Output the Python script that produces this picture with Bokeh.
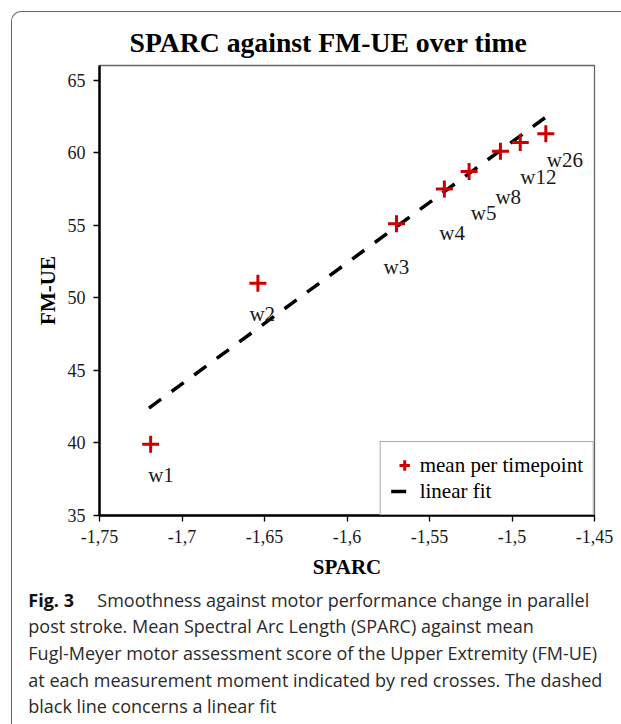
from bokeh.plotting import figure
from bokeh.models import (FixedTicker, Legend, LegendItem, Div,
                          ColumnDataSource, Range1d)
from bokeh.layouts import column
from bokeh.embed import file_html
from bokeh.resources import INLINE
from bokeh.core.properties import value

# ---- data ----
timepoints = ["w1", "w2", "w3", "w4", "w5", "w8", "w12", "w26"]
sparc = [-1.719, -1.654, -1.570, -1.541, -1.526, -1.507, -1.495, -1.4795]
fm_ue = [39.9, 51.0, 55.1, 57.5, 58.7, 60.1, 60.7, 61.3]
fit_sparc = [-1.72, -1.48]
fit_fm_ue = [42.4, 62.4]

x_ticks = [-1.75, -1.70, -1.65, -1.60, -1.55, -1.50, -1.45]
x_tick_labels = ["-1,75", "-1,7", "-1,65", "-1,6", "-1,55", "-1,5", "-1,45"]
y_ticks = [35, 40, 45, 50, 55, 60, 65]
y_tick_labels = ["35", "40", "45", "50", "55", "60", "65"]

title_text = "SPARC against FM-UE over time"
x_label = "SPARC"
y_label = "FM-UE"
legend_labels = ["mean per timepoint", "linear fit"]

caption_bold = "Fig. 3"
caption_lines = [
    "Smoothness against motor performance change in parallel",
    "post stroke. Mean Spectral Arc Length (SPARC) against mean",
    "Fugl-Meyer motor assessment score of the Upper Extremity (FM-UE)",
    "at each measurement moment indicated by red crosses. The dashed",
    "black line concerns a linear fit",
]

# ---- label placement (style, pixels) ----
label_dx = [-2.5, -8.5, -13, -5, 1.7, -5, 0, 1]
label_dy = [30.5, 30.5, 43, 44, 41.7, 46, 34.7, 26]

SERIF = "Liberation Serif"
SANS = "Open Sans"
RED = "#cc0000"
FIG_W, FIG_H = 621, 582
CAP_H = 142

p = figure(width=FIG_W, height=FIG_H,
           x_range=Range1d(-1.75, -1.45), y_range=Range1d(35, 66),
           output_backend="svg", toolbar_location=None,
           min_border_left=99, min_border_right=27,
           min_border_top=65, min_border_bottom=67)

p.title.text = title_text
p.title.align = "left"
p.title.offset = 30
p.title.standoff = 15
p.title.text_font = SERIF
p.title.text_font_size = "27.7px"
p.title.text_font_style = "bold"
p.title.text_color = "black"

p.xgrid.visible = False
p.ygrid.visible = False
p.background_fill_color = "white"
p.border_fill_color = None
p.outline_line_color = "#666666"
p.outline_line_width = 1.3

for ax in (p.xaxis[0], p.yaxis[0]):
    ax.axis_line_color = "black"
    ax.axis_line_width = 2.5
    ax.major_tick_line_color = "black"
    ax.major_tick_line_width = 1.3
    ax.major_tick_in = 0
    ax.major_tick_out = 6
    ax.minor_tick_line_color = None
    ax.major_label_text_font = SERIF
    ax.major_label_text_font_size = "18px"
    ax.major_label_text_color = "#1a1a1a"
    ax.axis_label_text_font = SERIF
    ax.axis_label_text_font_size = "21px"
    ax.axis_label_text_font_style = "bold"
    ax.axis_label_text_color = "black"

p.xaxis[0].major_label_standoff = 8
p.xaxis[0].axis_label_standoff = 9
p.yaxis[0].major_label_standoff = 8
p.yaxis[0].axis_label_standoff = 5

p.xaxis[0].ticker = FixedTicker(ticks=x_ticks)
p.xaxis[0].major_label_overrides = dict(zip(x_ticks, x_tick_labels))
p.xaxis[0].axis_label = x_label
p.yaxis[0].ticker = FixedTicker(ticks=y_ticks)
p.yaxis[0].major_label_overrides = dict(zip(y_ticks, y_tick_labels))
p.yaxis[0].axis_label = y_label

r_fit = p.line(fit_sparc, fit_fm_ue, line_color="black", line_width=3.5,
               line_dash="15 13")
r_pts = p.scatter(sparc, fm_ue, marker="cross", size=17,
                  line_color=RED, line_width=3)

src = ColumnDataSource(dict(x=sparc, y=fm_ue, t=timepoints,
                            dx=label_dx, dy=label_dy))
p.text(x="x", y="y", text="t", x_offset="dx", y_offset="dy", source=src,
       text_font=value(SERIF), text_font_size="21px", text_color="#1a1a1a",
       text_baseline="alphabetic", text_align="left")

legend = Legend(items=[LegendItem(label=legend_labels[0], renderers=[r_pts]),
                       LegendItem(label=legend_labels[1], renderers=[r_fit])],
                location="bottom_right", margin=0, padding=10,
                glyph_width=27, glyph_height=26, label_height=26,
                spacing=0, label_standoff=2,
                label_text_font=SERIF, label_text_font_size="21px",
                label_text_color="black",
                border_line_color="#555555", border_line_width=1.6,
                background_fill_color="white", background_fill_alpha=1.0)
p.add_layout(legend)

# caption with the outer rounded panel border (top and left edges)
lines_html = []
for i, line in enumerate(caption_lines):
    if i == 0:
        lines_html.append(
            '<span style="display:inline-block;width:69px;font-weight:bold;'
            'color:#111">%s</span>%s' % (caption_bold, line))
    else:
        lines_html.append(line)
caption_html = (
    '<div style="position:relative;width:%dpx;height:%dpx;">'
    '<div style="position:absolute;left:11px;top:%dpx;width:700px;height:900px;'
    'border-top:1.6px solid #666666;border-left:1.6px solid #666666;'
    'border-top-left-radius:10px;box-sizing:border-box;'
    'pointer-events:none;"></div>'
    '<div style="position:absolute;left:28.3px;top:4.6px;font-family:\'%s\';'
    'font-size:18px;line-height:26.7px;color:#2a2a2a;white-space:nowrap;">%s</div>'
    '</div>' % (FIG_W, CAP_H, 10.5 - FIG_H, SANS, "<br>".join(lines_html)))
cap = Div(text=caption_html, width=FIG_W, height=CAP_H, margin=0,
          styles={"overflow": "visible"})

layout = column(p, cap, spacing=0)
open("out.html", "w").write(file_html(layout, INLINE))
